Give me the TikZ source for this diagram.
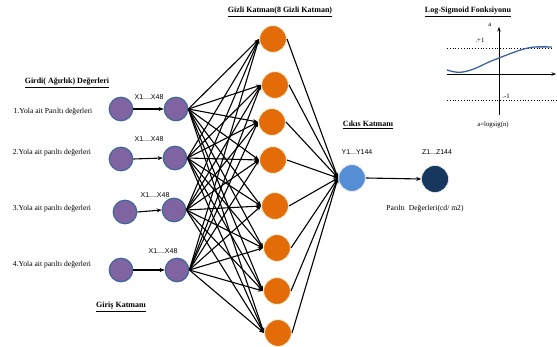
\documentclass[tikz,border=0pt]{standalone}
\usepackage{fontspec}
\setmainfont{Liberation Serif}
\setsansfont{Liberation Sans}
\usetikzlibrary{arrows.meta}
\definecolor{inpfill}{HTML}{8064A2}
\definecolor{inpdraw}{HTML}{41689A}
\definecolor{hidfill}{HTML}{E36C09}
\definecolor{hiddraw}{HTML}{F2F0D8}
\definecolor{yfill}{HTML}{558ED5}
\definecolor{ydraw}{HTML}{E8EEF8}
\definecolor{zfill}{HTML}{17375E}
\definecolor{curveblue}{HTML}{3A64A0}
\begin{document}
\begin{tikzpicture}[x=1pt,y=-1pt,
  inp/.style={circle, fill=inpfill, draw=inpdraw, line width=1.2pt, minimum size=23.5pt, inner sep=0pt},
  hid/.style={circle, fill=hidfill, draw=hiddraw, line width=1pt, minimum size=27pt, inner sep=0pt},
  outn/.style={circle, fill=yfill, draw=ydraw, line width=1pt, minimum size=27pt, inner sep=0pt},
  fin/.style={circle, fill=zfill, draw=ydraw, line width=0.6pt, minimum size=27pt, inner sep=0pt},
  conn/.style={-{Stealth[length=5pt,width=4pt]}, line width=1.1pt},
  ttl/.style={font=\fontsize{8}{9}\selectfont\bfseries, inner sep=0pt},
  lbl/.style={font=\fontsize{7.6}{9}\selectfont, inner sep=0pt},
  sl/.style={font=\sffamily\fontsize{7}{8}\selectfont, inner sep=0pt},
  sm/.style={font=\fontsize{6.8}{8}\selectfont, inner sep=0pt}]
\useasboundingbox (0,0) rectangle (557,347);
% input nodes
\node[inp] (L1) at (121,109) {};
\node[inp] (R1) at (176,109) {};
\node[inp] (L2) at (121,159) {};
\node[inp] (R2) at (175,158) {};
\node[inp] (L3) at (125,212) {};
\node[inp] (R3) at (174,210) {};
\node[inp] (L4) at (121,270) {};
\node[inp] (R4) at (177,270) {};
% hidden nodes
\node[hid] (H1) at (273,39) {};
\node[hid] (H2) at (275,85) {};
\node[hid] (H3) at (272,122) {};
\node[hid] (H4) at (273,160) {};
\node[hid] (H5) at (275,206) {};
\node[hid] (H6) at (277,248) {};
\node[hid] (H7) at (277,291) {};
\node[hid] (H8) at (278,333) {};
% output nodes
\node[outn] (Y) at (352,178) {};
\node[fin] (Z) at (435,179) {};
% connectors
\foreach \i in {1,...,4} {
  \draw[conn] (L\i.east) -- (R\i.west);
  \foreach \j in {1,...,8} {
    \draw[conn] (R\i.east) -- (H\j.west);
  }
}
\foreach \j in {1,...,8} {
  \draw[conn] (H\j.east) -- (Y.west);
}
\draw[conn] (Y.east) -- (Z.west);
% texts
\node[ttl] (t1) at (67,83) {\underline{Girdi( Ağırlık) Değerleri}};
\node[lbl] (a1) at (53,112) {1.Yola ait Parıltı değerleri};
\node[lbl] (a2) at (52,153) {2.Yola ait parıltı değerleri};
\node[lbl] (a3) at (52,209) {3.Yola ait parıltı değerleri};
\node[lbl] (a4) at (52,265) {4.Yola ait parıltı değerleri};
\node[sl] (x1) at (149,97) {X1....X48};
\node[sl] (x2) at (149,139) {X1....X48};
\node[sl] (x3) at (155,195) {X1....X48};
\node[sl] (x4) at (163,251) {X1....X48};
\node[ttl] (t2) at (121,307) {\underline{Giriş Katmanı}};
\node[ttl] (t3) at (280,12) {\underline{Gizli Katman(8 Gizli Katman)}};
\node[ttl] (t4) at (368,125) {\underline{Cıkıs Katmanı}};
\node[sl] (y1) at (357,152) {Y1...Y144};
\node[sl] (z1) at (437,152) {Z1...Z144};
\node[lbl] (pv) at (425,209) {Parıltı\ \ Değerleri(cd/ m2)};
% sigmoid plot
\node[ttl] (t5) at (468,12) {\underline{Log-Sigmoid Fonksiyonu}};
\draw[-{Stealth[length=4.5pt,width=3.5pt]}, line width=0.7pt] (499,115) -- (499,27);
\draw[-{Stealth[length=4.5pt,width=3.5pt]}, line width=0.7pt] (447,74) -- (556,74);
\draw[dotted, line width=0.8pt] (447,48) -- (552,48);
\draw[dotted, line width=0.8pt] (447,100) -- (557,100);
\draw[curveblue, line width=1.3pt] plot[smooth, tension=0.6] coordinates {(447,70) (455,72) (463,72) (475,68.5) (490,61.5) (499,58) (512,53) (524,49) (535,47) (552,47)};
\node[sm] (la) at (490,25) {a};
\node[sm] (lp) at (480,40) {.+1};
\node[sm] (lm) at (506,96) {.-1};
\node[sm] (lf) at (493,125) {a=logsig(n)};
\end{tikzpicture}
\end{document}
